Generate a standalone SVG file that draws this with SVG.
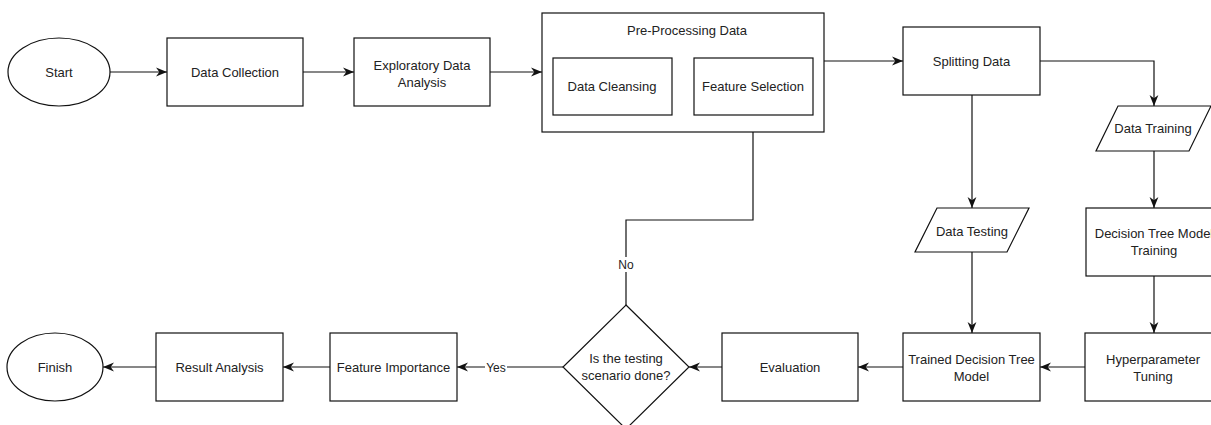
<svg xmlns="http://www.w3.org/2000/svg" width="1211" height="425" viewBox="0 0 1211 425">
<style>
.s{fill:#fff;stroke:#111;stroke-width:1.2}
.c{fill:none;stroke:#111;stroke-width:1.2}
text{font-family:"Liberation Sans",Arial,sans-serif;font-size:13px;fill:#222;text-anchor:middle}
.lbl{font-size:12px}
</style>
<defs>
<marker id="a" viewBox="0 0 10 10" refX="10" refY="5" markerWidth="11" markerHeight="11" markerUnits="userSpaceOnUse" orient="auto">
<path d="M0,1 L10,5 L0,9 L3,5 Z" fill="#111"/>
</marker>
</defs>
<rect width="1211" height="425" fill="#fff"/>
<g id="connectors">
<path class="c" d="M110,72H167" marker-end="url(#a)"/>
<path class="c" d="M303,72H354" marker-end="url(#a)"/>
<path class="c" d="M490,72H542" marker-end="url(#a)"/>
<path class="c" d="M672,86H694" marker-end="url(#a)"/>
<path class="c" d="M824,61H903" marker-end="url(#a)"/>
<path class="c" d="M1040,61H1154V106" marker-end="url(#a)"/>
<path class="c" d="M972,95V208" marker-end="url(#a)"/>
<path class="c" d="M1154,151V208" marker-end="url(#a)"/>
<path class="c" d="M972,252V333" marker-end="url(#a)"/>
<path class="c" d="M1154,276V333" marker-end="url(#a)"/>
<path class="c" d="M1085,367H1040" marker-end="url(#a)"/>
<path class="c" d="M903,367H858" marker-end="url(#a)"/>
<path class="c" d="M722,367H689" marker-end="url(#a)"/>
<path class="c" d="M563,367H457" marker-end="url(#a)"/>
<path class="c" d="M626,305V220H753V115" marker-end="url(#a)"/>
<path class="c" d="M330,367H283" marker-end="url(#a)"/>
<path class="c" d="M156,367H103" marker-end="url(#a)"/>
<rect x="485" y="360" width="22" height="14" fill="#fff"/>
<text class="lbl" x="496" y="372">Yes</text>
<rect x="616" y="257" width="20" height="15" fill="#fff"/>
<text class="lbl" x="626" y="269">No</text>
</g>
<g id="start"><ellipse class="s" cx="59" cy="72" rx="51" ry="34"/><text x="59" y="76.5">Start</text></g>
<g id="data-collection"><rect class="s" x="167" y="38" width="136" height="68"/><text x="235" y="76.5">Data Collection</text></g>
<g id="eda"><rect class="s" x="354" y="38" width="136" height="68"/><text x="422" y="69.5">Exploratory Data</text><text x="422" y="86.5">Analysis</text></g>
<g id="preprocessing"><rect class="s" x="542" y="13" width="282" height="119"/><text x="687" y="34.5">Pre-Processing Data</text></g>
<g id="data-cleansing"><rect class="s" x="553" y="58" width="119" height="57"/><text x="612" y="91">Data Cleansing</text></g>
<g id="feature-selection"><rect class="s" x="694" y="58" width="119" height="57"/><text x="753" y="91">Feature Selection</text></g>
<g id="splitting-data"><rect class="s" x="903" y="27" width="137" height="68"/><text x="971.5" y="65.5">Splitting Data</text></g>
<g id="data-training"><polygon class="s" points="1118,106 1211,106 1189,151 1096,151"/><text x="1153" y="133">Data Training</text></g>
<g id="data-testing"><polygon class="s" points="937,208 1029,208 1007,252 915,252"/><text x="972" y="235.5">Data Testing</text></g>
<g id="dt-training"><rect class="s" x="1086" y="208" width="136" height="68"/><text x="1154" y="238">Decision Tree Model</text><text x="1154" y="255">Training</text></g>
<g id="hyperparameter"><rect class="s" x="1085" y="333" width="136" height="68"/><text x="1153" y="363.5">Hyperparameter</text><text x="1153" y="380.5">Tuning</text></g>
<g id="trained-model"><rect class="s" x="903" y="333" width="137" height="68"/><text x="971.5" y="363.5">Trained Decision Tree</text><text x="971.5" y="380.5">Model</text></g>
<g id="evaluation"><rect class="s" x="722" y="333" width="136" height="68"/><text x="790" y="371.5">Evaluation</text></g>
<g id="decision"><polygon class="s" points="626,305 689,367 626,429 563,367"/><text x="626" y="363">Is the testing</text><text x="626" y="380">scenario done?</text></g>
<g id="feature-importance"><rect class="s" x="330" y="333" width="127" height="68"/><text x="393.5" y="371.5">Feature Importance</text></g>
<g id="result-analysis"><rect class="s" x="156" y="333" width="127" height="68"/><text x="219.5" y="371.5">Result Analysis</text></g>
<g id="finish"><ellipse class="s" cx="55" cy="367" rx="48" ry="34"/><text x="55" y="371.5">Finish</text></g>
</svg>
